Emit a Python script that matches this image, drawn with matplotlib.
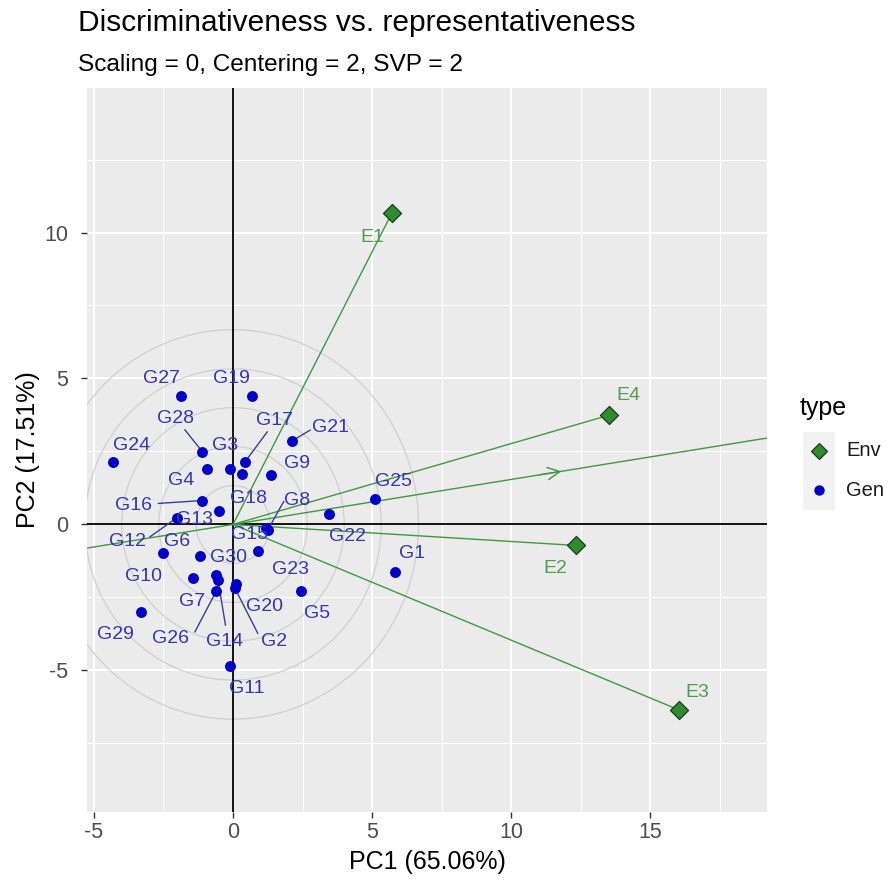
import numpy as np
import matplotlib
matplotlib.use("Agg")
import matplotlib.pyplot as plt
from matplotlib.patches import Circle, Rectangle
from matplotlib.lines import Line2D

plt.rcParams['font.family'] = ['Liberation Sans', 'DejaVu Sans']
plt.rcParams['axes.unicode_minus'] = False

# ---------------- data ----------------
env_names = ["E1", "E2", "E3", "E4"]
env_pc1 = [5.72, 12.34, 16.05, 13.51]
env_pc2 = [10.68, -0.72, -6.36, 3.74]

gen_names = ["G1", "G2", "G3", "G4", "G5", "G6", "G7", "G8", "G9", "G10",
             "G11", "G12", "G13", "G14", "G15", "G16", "G17", "G18", "G19", "G20",
             "G21", "G22", "G23", "G24", "G25", "G26", "G27", "G28", "G29", "G30"]
gen_pc1 = [5.83, 0.06, -0.10, -0.93, 2.46, -2.52, -0.60, 1.25, 1.37, -1.45,
           -0.10, -2.02, -0.51, -0.54, 1.18, -1.10, 0.42, 0.32, 0.68, 0.12,
           2.11, 3.45, 0.89, -4.32, 5.12, -0.60, -1.88, -1.10, -3.32, -1.18]
gen_pc2 = [-1.62, -2.17, 1.89, 1.89, -2.28, -0.97, -1.74, -0.19, 1.68, -1.85,
           -4.85, 0.23, 0.46, -1.91, -0.12, 0.82, 2.13, 1.72, 4.39, -2.05,
           2.85, 0.35, -0.90, 2.13, 0.88, -2.28, 4.39, 2.49, -2.99, -1.08]

circle_radii = [1.33, 2.67, 4.0, 5.33, 6.67]
x_ticks = [-5, 0, 5, 10, 15]
y_ticks = [-5, 0, 5, 10]

# ---------------- layout (label placement like ggrepel) ----------------
gen_label_pos = {
    "G27": (-2.56, 5.0), "G19": (-0.06, 5.0), "G28": (-2.06, 3.63), "G24": (-3.65, 2.72),
    "G3": (-0.30, 2.72), "G17": (1.49, 3.57), "G21": (3.49, 3.31), "G9": (2.30, 2.09),
    "G4": (-1.85, 1.52), "G25": (5.77, 1.46), "G18": (0.54, 0.89), "G16": (-3.57, 0.66),
    "G8": (2.32, 0.83), "G13": (-1.37, 0.18), "G15": (0.60, -0.34), "G12": (-3.81, -0.59),
    "G6": (-2.02, -0.59), "G22": (4.11, -0.42), "G30": (-0.18, -1.14), "G1": (6.43, -0.99),
    "G10": (-3.21, -1.79), "G23": (2.08, -1.56), "G7": (-1.49, -2.65), "G20": (1.13, -2.82),
    "G5": (3.04, -3.05), "G29": (-4.23, -3.77), "G26": (-2.26, -3.90), "G14": (-0.30, -4.02),
    "G2": (1.49, -4.02), "G11": (0.48, -5.62),
}
seg_start = {
    "G28": (-1.73, 3.24), "G17": (1.23, 3.17), "G21": (2.77, 3.23), "G16": (-2.68, 0.72),
    "G12": (-2.98, -0.42), "G8": (1.82, 0.78), "G26": (-1.37, -3.68), "G14": (-0.27, -3.45),
    "G2": (0.89, -3.73),
}
env_label_pos = {"E1": (5.0, 9.84), "E2": (11.58, -1.52), "E3": (16.71, -5.77), "E4": (14.21, 4.40)}

W, H = 889, 884
fig = plt.figure(figsize=(W / 100, H / 100), dpi=100)
pl, pr, pt, pb = 87, 767, 88, 812
ax = fig.add_axes([pl / W, 1 - pb / H, (pr - pl) / W, (pb - pt) / H])

xlim = (-5.25, 19.2)
ylim = (-9.85, 14.95)
ax.set_xlim(*xlim)
ax.set_ylim(*ylim)
ax.set_facecolor('#EBEBEB')
for s in ax.spines.values():
    s.set_visible(False)

# grid
ax.set_xticks(x_ticks)
ax.set_yticks(y_ticks)
ax.set_xticks([t + 2.5 for t in x_ticks], minor=True)
ax.set_yticks([-7.5] + [t + 2.5 for t in y_ticks], minor=True)
ax.grid(which='major', color='white', lw=1.4, zorder=0)
ax.grid(which='minor', color='white', lw=0.7, zorder=0)
ax.set_axisbelow(True)
ax.tick_params(which='minor', length=0)
ax.tick_params(which='major', length=4.5, width=1, color='#333333', labelcolor='#4D4D4D',
               labelsize=15.5, pad=3)
ax.tick_params(axis='y', which='major', pad=9)

# concentric circles
for r in circle_radii:
    ax.add_patch(Circle((0, 0), r, fill=False, ec='#CFCFCF', lw=0.9, zorder=1))

# axes lines
ax.axhline(0, color='black', lw=1.3, zorder=2)
ax.axvline(0, color='black', lw=1.3, zorder=2)

green_line = '#3E9A3E'
# AEC line through the mean environment
mx, my = np.mean(env_pc1), np.mean(env_pc2)
ax.axline((0, 0), (mx, my), color=green_line, lw=1.0, zorder=3)
ax.annotate('', xy=(mx, my), xytext=(mx - 1.0, my - 1.0 * my / mx),
            arrowprops=dict(arrowstyle='->', color=green_line, lw=1.0, mutation_scale=22),
            zorder=3)

# environment vectors
for x, y in zip(env_pc1, env_pc2):
    ax.plot([0, x], [0, y], color=green_line, lw=1.0, zorder=3)

# segments for genotype labels
for name, (sx, sy) in seg_start.items():
    i = gen_names.index(name)
    ax.plot([sx, gen_pc1[i]], [sy, gen_pc2[i]], color='#3B3B9A', lw=1.0, zorder=4)

# points
ax.scatter(gen_pc1, gen_pc2, s=62, color='#0000C8', zorder=5, linewidths=0)
ax.scatter(env_pc1, env_pc2, s=85, marker='D', color='#2E8B2E', edgecolors='#1C3A1C',
           linewidths=0.9, zorder=5)

# labels
for name in gen_names:
    lx, ly = gen_label_pos[name]
    ax.text(lx, ly, name, color='#3535B0', fontsize=14, ha='center', va='center', zorder=6)
for name in env_names:
    lx, ly = env_label_pos[name]
    ax.text(lx, ly, name, color='#4E9E4E', fontsize=14, ha='center', va='center', zorder=6)

# titles
fig.text(78 / W, 1 - 23 / H, 'Discriminativeness vs. representativeness', fontsize=21.5,
         color='black', ha='left', va='center')
fig.text(78 / W, 1 - 65 / H, 'Scaling = 0, Centering = 2, SVP = 2', fontsize=17.6,
         color='black', ha='left', va='center')
fig.text((pl + pr) / 2 / W, 1 - 862 / H, 'PC1 (65.06%)', fontsize=18, color='black',
         ha='center', va='center')
fig.text(28 / W, 1 - 450 / H, 'PC2 (17.51%)', fontsize=18, color='black',
         ha='center', va='center', rotation=90)

# legend (ggplot style)
fig.text(800 / W, 1 - 408 / H, 'type', fontsize=18, color='black', ha='left', va='center')
fig.add_artist(Rectangle((803 / W, 1 - 510 / H), 32 / W, 78 / H, transform=fig.transFigure,
                         facecolor='#F2F2F2', edgecolor='none'))
fig.add_artist(Line2D([819 / W], [1 - 451 / H], marker='D', markersize=8.5, color='#2E8B2E',
                      markeredgecolor='#1C3A1C', markeredgewidth=0.9, transform=fig.transFigure))
fig.add_artist(Line2D([819 / W], [1 - 490 / H], marker='o', markersize=7.5, color='#0000C8',
                      markeredgewidth=0, transform=fig.transFigure))
fig.text(846 / W, 1 - 451 / H, 'Env', fontsize=14.5, color='#1A1A1A', ha='left', va='center')
fig.text(846 / W, 1 - 490 / H, 'Gen', fontsize=14.5, color='#1A1A1A', ha='left', va='center')

fig.savefig('out.png', dpi=100, facecolor='white')
